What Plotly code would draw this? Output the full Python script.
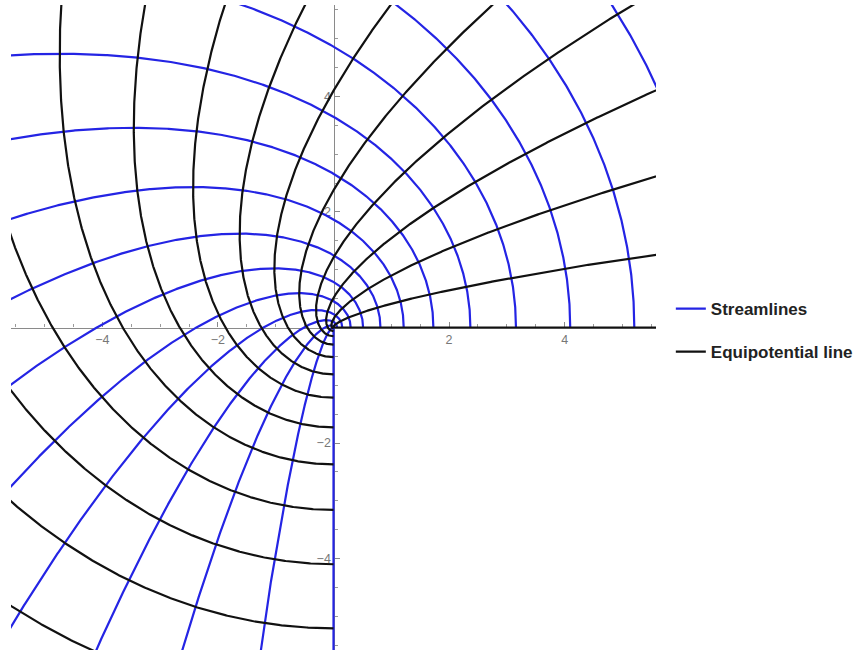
import numpy as np
import plotly.graph_objects as go

# Contour levels of the complex potential w = z^(1/3) on the 270-degree corner region
stream_levels = [0.0, 0.133, 0.267, 0.4, 0.533, 0.667, 0.8, 0.933, 1.067,
                 1.2, 1.333, 1.467, 1.6, 1.733, 1.867]          # Re(w) = const (blue)
equipotential_levels = [0.0, 0.133, 0.267, 0.4, 0.533, 0.667, 0.8, 0.933, 1.067,
                        1.2, 1.333, 1.467, 1.6, 1.733, 1.867]   # Im(w) = const (black)
x_ticks = [-4, -2, 2, 4]
y_ticks = [-4, -2, 2, 4]
tick_labels_x = ["−4", "−2", "2", "4"]
tick_labels_y = ["−4", "−2", "2", "4"]

AX = 5.58
s = np.linspace(0.0, 2.3, 900)


def family(levels, real_part):
    xs, ys = [], []
    for c in levels:
        w = (c + 1j * s) if real_part else (s + 1j * c)
        z = w ** 3
        x, y = z.real, z.imag
        keep = (np.abs(x) < 9) & (np.abs(y) < 9)
        xs.extend(np.where(keep, x, np.nan).tolist())
        ys.extend(np.where(keep, y, np.nan).tolist())
        xs.append(None)
        ys.append(None)
    xs = [None if (v is not None and np.isnan(v)) else v for v in xs]
    ys = [None if (v is not None and np.isnan(v)) else v for v in ys]
    return xs, ys


bx, by = family(stream_levels, True)
kx, ky = family(equipotential_levels, False)

fig = go.Figure()
fig.add_trace(go.Scatter(x=bx, y=by, mode="lines", name="Streamlines",
                         line=dict(color="#2424e4", width=2.2), connectgaps=False,
                         hoverinfo="skip", legendgroup="a"))
fig.add_trace(go.Scatter(x=kx, y=ky, mode="lines", name="Equipotential line",
                         line=dict(color="#111111", width=2.2), connectgaps=False,
                         hoverinfo="skip", legendgroup="b"))

minor_vals = [v / 2 for v in range(-11, 12) if v % 4 != 0]

axis_common = dict(
    showgrid=False, zeroline=False, showline=True, linecolor="#8a8a8a", linewidth=1.3,
    ticks="inside", ticklen=5, tickwidth=1, tickcolor="#8a8a8a",
    tickfont=dict(family="Liberation Sans", size=12.5, color="#777777"),
    anchor="free", position=0.5, layer="below traces",
    minor=dict(tickmode="array", tickvals=minor_vals, ticks="inside", ticklen=3,
               tickwidth=1, tickcolor="#9a9a9a"),
)

fig.update_layout(
    width=867, height=654,
    margin=dict(l=11, r=211, t=5, b=4),
    paper_bgcolor="white", plot_bgcolor="white",
    xaxis=dict(range=[-AX, AX], tickmode="array", tickvals=x_ticks,
               ticktext=tick_labels_x, side="bottom", **axis_common),
    yaxis=dict(range=[-AX, AX], tickmode="array", tickvals=y_ticks,
               ticktext=tick_labels_y, side="left", **axis_common),
    showlegend=True,
    legend=dict(x=1.023, xanchor="left", y=0.5565, yanchor="top",
                font=dict(family="Liberation Sans", size=17, color="#222222", weight="bold"),
                tracegroupgap=18, traceorder="grouped", bgcolor="rgba(0,0,0,0)"),
)

fig.write_html("out.html")
